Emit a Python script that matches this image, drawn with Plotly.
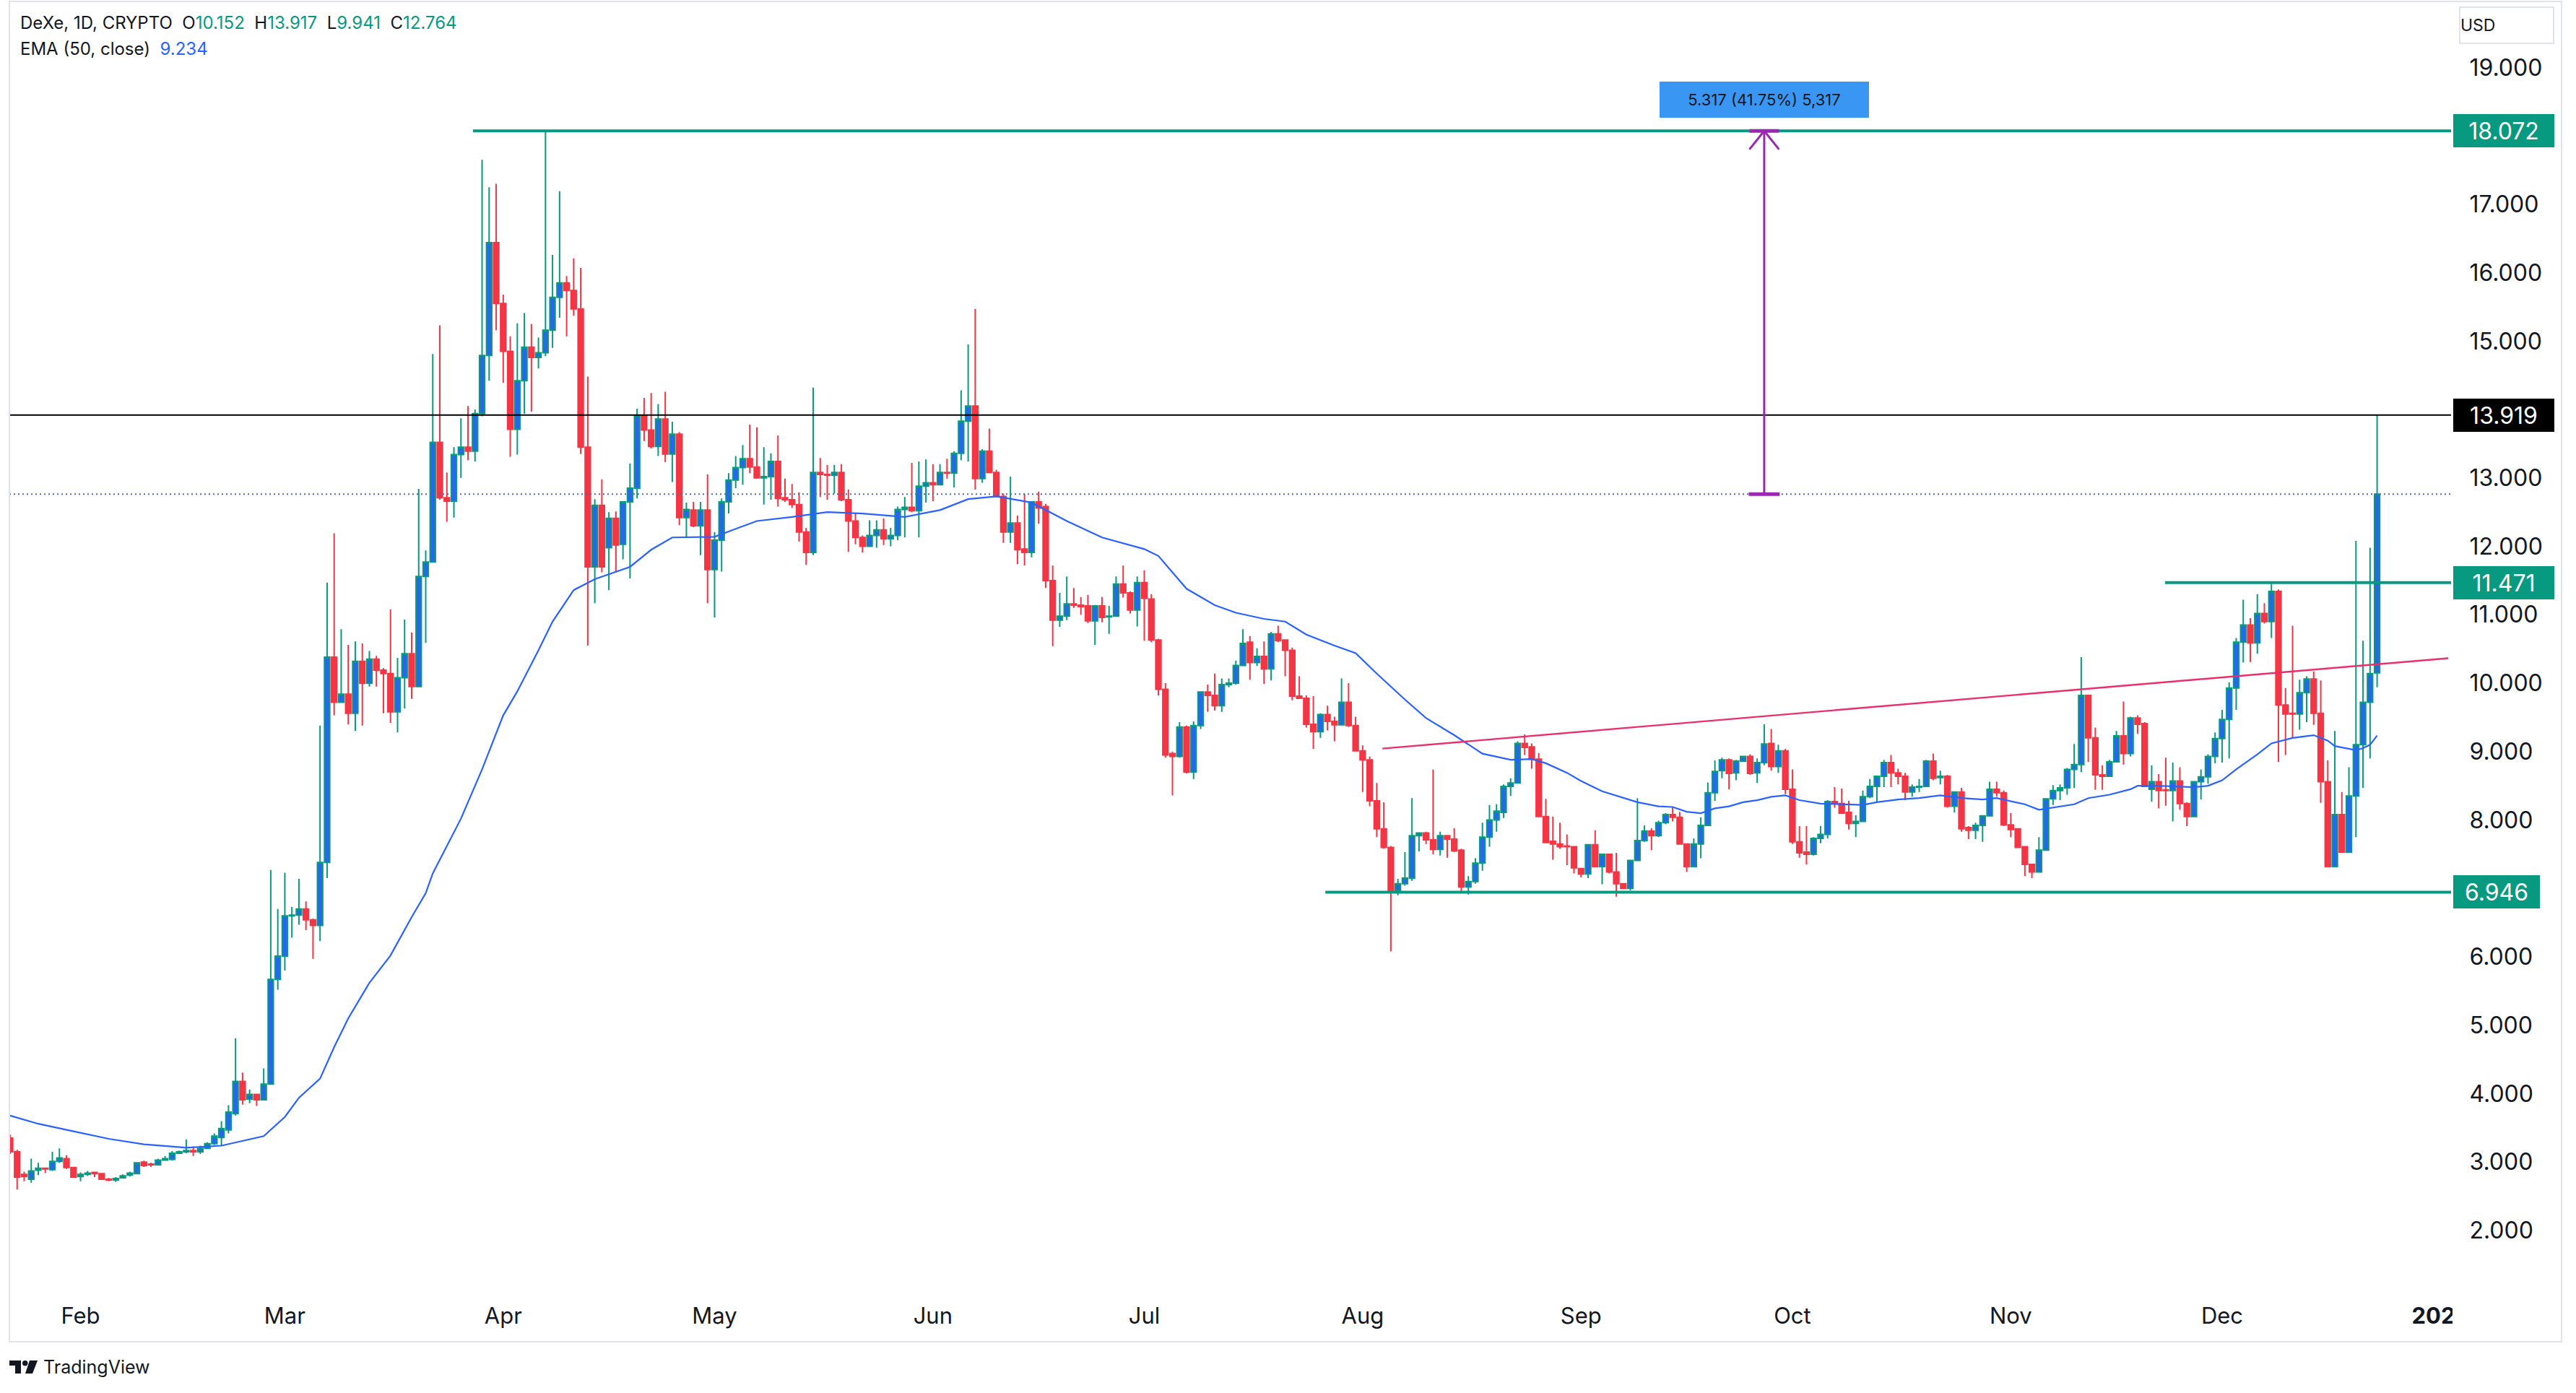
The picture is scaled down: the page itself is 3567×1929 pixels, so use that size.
import pandas as pd
import plotly.graph_objects as go

# ---------------- data ----------------
symbol_title = "DeXe, 1D, CRYPTO"
ema_title = "EMA (50, close)"
first_day = "2024-01-22"

opens = [
 3.35,3.15,2.82,2.75,2.88,2.91,2.89,3.01,3.05,2.92,
 2.79,2.82,2.85,2.83,2.75,2.74,2.77,2.81,2.83,3.00,
 2.97,2.96,3.03,3.04,3.13,3.15,3.17,3.15,3.20,3.27,
 3.36,3.47,3.71,4.18,3.92,3.99,3.91,4.14,5.67,6.01,
 6.60,6.61,6.70,6.54,6.46,7.38,10.38,9.72,9.84,9.56,
 10.32,10.00,10.35,10.19,10.14,9.58,10.08,10.43,9.95,11.56,
 11.77,13.52,12.71,12.66,13.34,13.45,13.39,13.94,14.79,16.44,
 15.55,14.85,13.71,14.42,14.91,14.76,14.83,15.16,15.64,15.85,
 15.74,15.47,13.45,11.70,12.60,11.98,12.41,12.03,12.65,12.85,
 13.91,13.70,13.46,13.86,13.35,13.64,12.42,12.53,12.30,12.53,
 11.66,12.09,12.65,12.97,13.15,13.28,13.16,13.00,13.02,13.24,
 12.71,12.68,12.61,12.21,11.91,13.08,13.05,13.04,13.08,12.68,
 12.37,12.13,12.00,12.16,12.24,12.11,12.16,12.54,12.57,12.52,
 12.88,12.93,12.90,13.08,13.07,13.36,13.83,14.05,12.99,13.39,
 13.08,12.73,12.21,12.34,11.96,11.91,12.65,12.58,11.50,10.92,
 10.98,11.16,11.14,11.13,10.91,11.13,10.97,10.98,11.45,11.32,
 11.07,11.47,11.23,10.63,9.91,8.97,8.93,9.36,8.70,9.38,
 9.87,9.82,9.67,9.98,10.00,10.26,10.60,10.30,10.39,10.21,
 10.72,10.63,10.48,9.81,9.78,9.40,9.29,9.54,9.44,9.39,
 9.72,9.38,9.01,8.88,8.28,7.87,7.60,6.97,7.07,7.15,
 7.77,7.81,7.71,7.57,7.77,7.72,7.56,7.02,7.10,7.37,
 7.75,8.00,8.11,8.49,8.54,9.12,9.07,8.89,8.05,7.69,
 7.65,7.62,7.61,7.29,7.21,7.64,7.32,7.50,7.24,7.07,
 7.00,7.41,7.70,7.84,7.77,7.96,8.08,8.04,7.65,7.32,
 7.65,7.92,8.40,8.72,8.88,8.69,8.86,8.93,8.69,8.84,
 9.12,8.78,9.01,8.45,7.68,7.53,7.50,7.73,7.79,8.27,
 8.24,8.11,7.95,7.98,8.34,8.49,8.64,8.84,8.69,8.64,
 8.41,8.48,8.49,8.86,8.62,8.64,8.20,8.41,7.89,7.85,
 7.92,8.06,8.45,8.40,7.93,7.87,7.61,7.35,7.24,7.56,
 8.31,8.43,8.47,8.74,8.81,9.82,9.20,8.66,8.64,8.85,
 9.23,8.97,9.49,9.41,8.45,8.56,8.44,8.43,8.57,8.24,
 8.05,8.56,8.63,8.93,9.19,9.47,9.93,10.60,10.85,10.59,
 11.02,10.90,11.34,9.68,9.56,9.55,9.86,10.06,9.56,8.56,
 7.32,8.08,7.53,8.35,9.10,9.72,10.152]

highs = [
 3.40,3.18,2.86,3.05,2.99,2.92,3.15,3.20,3.10,2.93,
 2.85,2.87,2.86,2.84,2.77,2.78,2.82,2.86,3.00,3.02,
 2.99,3.05,3.09,3.16,3.17,3.33,3.23,3.24,3.29,3.42,
 3.60,3.83,4.81,4.31,4.06,4.00,4.37,7.27,6.70,7.23,
 6.73,7.14,6.81,6.56,9.38,11.47,12.19,10.79,10.56,10.61,
 10.58,10.47,10.40,10.22,11.08,10.37,10.93,10.74,12.84,11.94,
 14.81,15.23,13.08,13.45,13.87,14.05,14.00,17.65,17.25,17.30,
 15.68,15.07,15.26,15.41,15.25,15.05,18.07,16.26,17.19,15.95,
 16.21,16.07,14.48,12.69,12.98,12.50,12.51,12.65,13.21,14.01,
 14.17,14.24,14.08,14.26,13.82,13.67,12.64,12.65,12.65,13.05,
 12.21,12.70,13.07,13.32,13.48,13.78,13.74,13.45,13.36,13.62,
 12.99,12.91,12.79,12.27,14.32,13.29,13.19,13.19,13.20,12.83,
 12.48,12.16,12.38,12.38,12.41,12.27,12.58,12.72,13.22,13.24,
 13.27,13.20,13.20,13.28,13.39,14.28,14.95,15.47,13.42,13.72,
 13.12,12.77,13.02,12.45,12.77,12.66,12.80,12.62,11.72,11.32,
 11.56,11.39,11.26,11.29,11.14,11.26,11.13,11.56,11.72,11.34,
 11.56,11.65,11.30,10.65,10.00,9.00,9.43,9.38,9.44,9.88,
 9.98,10.14,10.07,10.07,10.33,10.79,10.69,10.51,10.61,10.75,
 10.84,10.64,10.52,10.10,9.82,9.81,9.56,9.67,9.51,10.07,
 10.00,9.51,9.09,8.93,8.54,8.26,7.62,7.14,7.53,8.32,
 7.82,7.83,8.74,7.83,7.78,7.88,7.58,7.18,7.44,7.96,
 8.22,8.23,8.52,8.61,9.15,9.25,9.12,8.98,8.31,8.05,
 7.96,7.79,7.62,7.30,7.64,7.85,7.51,7.51,7.52,7.08,
 7.42,8.32,7.92,7.88,7.99,8.10,8.19,8.12,7.65,7.73,
 8.04,8.55,8.87,8.91,8.90,8.88,8.94,8.96,8.90,9.40,
 9.33,9.10,9.04,8.74,7.91,7.91,7.75,7.91,8.29,8.48,
 8.46,8.28,8.07,8.43,8.60,8.64,8.88,8.95,8.75,8.69,
 8.52,8.60,8.88,8.97,8.72,8.66,8.42,8.47,7.91,7.96,
 8.07,8.56,8.56,8.43,8.10,7.88,7.61,7.36,7.75,8.32,
 8.51,8.52,8.76,9.11,10.38,9.82,9.35,8.80,8.88,9.30,
 9.73,9.51,9.53,9.43,8.80,8.67,8.91,8.84,8.77,8.26,
 8.57,8.74,8.96,9.28,9.61,10.01,10.66,11.22,10.95,11.30,
 11.17,11.47,11.37,9.93,10.84,10.05,10.10,10.17,10.04,8.87,
 9.30,8.41,8.77,12.08,10.62,11.98,13.917]

lows = [
 3.12,2.60,2.72,2.70,2.81,2.84,2.87,2.99,2.90,2.77,
 2.72,2.80,2.78,2.74,2.72,2.71,2.76,2.79,2.82,2.93,
 2.93,2.95,3.02,3.02,3.12,3.13,3.09,3.12,3.19,3.25,
 3.24,3.42,3.68,3.84,3.86,3.82,3.90,4.13,5.52,5.80,
 6.28,6.47,6.39,5.97,6.23,7.15,9.53,9.72,9.40,9.30,
 9.38,9.95,9.95,9.56,9.42,9.28,9.63,9.77,9.95,10.59,
 11.77,12.68,12.36,12.42,13.00,13.26,13.24,13.90,14.42,15.16,
 14.39,13.31,13.34,13.94,13.97,14.60,14.78,14.90,15.34,15.07,
 15.37,13.35,10.55,11.17,11.62,11.36,11.62,11.81,11.53,12.70,
 13.54,13.43,13.32,13.23,12.94,12.31,12.14,12.28,11.87,11.17,
 10.96,11.63,12.48,12.85,12.90,13.07,12.99,12.61,12.68,12.58,
 12.65,12.56,12.07,11.73,11.87,12.72,12.68,12.77,12.66,11.92,
 12.03,11.91,11.99,11.98,12.02,12.00,12.09,12.13,12.50,12.13,
 12.64,12.66,12.90,12.99,12.86,13.26,13.24,12.83,12.93,13.07,
 12.72,12.05,12.05,11.74,11.72,11.84,12.33,11.39,10.54,10.82,
 10.92,11.10,11.00,10.88,10.56,10.89,10.72,10.98,11.25,11.02,
 10.83,10.62,10.60,9.82,8.91,8.36,8.91,8.68,8.60,9.33,
 9.58,9.60,9.58,9.94,9.98,10.25,10.05,10.25,9.99,10.04,
 10.60,10.10,9.75,9.78,9.35,9.04,9.20,9.31,9.15,9.39,
 9.36,9.01,8.41,8.20,7.75,7.58,6.08,6.90,7.04,7.11,
 7.54,7.65,7.50,7.48,7.45,7.53,6.96,6.91,7.07,7.26,
 7.61,7.83,8.03,8.35,8.53,8.95,8.75,8.05,7.66,7.42,
 7.58,7.34,7.22,7.16,7.15,7.31,7.06,7.22,6.88,6.99,
 6.97,7.40,7.68,7.56,7.75,7.94,7.98,7.64,7.24,7.31,
 7.44,7.91,8.28,8.61,8.45,8.58,8.85,8.66,8.54,8.80,
 8.72,8.69,8.38,7.65,7.45,7.35,7.48,7.66,7.73,8.18,
 8.10,7.86,7.75,7.97,8.32,8.26,8.48,8.48,8.52,8.29,
 8.34,8.41,8.48,8.58,8.52,8.18,8.11,7.83,7.72,7.72,
 7.68,8.05,8.34,7.91,7.75,7.59,7.18,7.15,7.23,7.55,
 8.22,8.29,8.37,8.47,8.70,8.85,8.44,8.44,8.63,8.84,
 8.81,8.93,9.26,8.48,8.27,8.17,8.21,7.98,8.15,7.91,
 8.04,8.30,8.53,8.83,8.84,8.90,9.61,10.30,10.31,10.43,
 10.87,10.66,8.85,8.95,9.21,9.32,9.43,9.39,8.25,7.32,
 7.32,7.53,7.52,7.75,8.47,8.90,9.941]

closes = [
 3.15,2.78,2.79,2.87,2.91,2.90,3.01,3.06,2.92,2.78,
 2.82,2.84,2.83,2.75,2.74,2.76,2.80,2.84,2.99,2.95,
 2.96,3.03,3.05,3.13,3.15,3.17,3.15,3.20,3.27,3.38,
 3.49,3.73,4.18,3.91,3.99,3.91,4.14,5.67,6.01,6.60,
 6.61,6.70,6.54,6.46,7.38,10.38,9.72,9.84,9.56,10.32,
 10.00,10.35,10.19,10.14,9.58,10.08,10.43,9.95,11.56,11.77,
 13.52,12.71,12.66,13.34,13.45,13.39,13.94,14.79,16.44,15.55,
 14.85,13.71,14.42,14.91,14.76,14.83,15.16,15.64,15.85,15.74,
 15.47,13.45,11.70,12.60,11.70,12.41,12.02,12.65,12.85,13.91,
 13.70,13.46,13.86,13.35,13.64,12.42,12.54,12.30,12.53,11.66,
 12.09,12.65,12.97,13.15,13.28,13.16,13.00,13.02,13.24,12.70,
 12.68,12.61,12.21,11.91,13.08,13.05,13.04,13.08,12.68,12.37,
 12.13,12.00,12.16,12.24,12.11,12.16,12.54,12.57,12.52,12.88,
 12.93,12.90,13.08,13.07,13.36,13.83,14.05,12.99,13.39,13.08,
 12.73,12.21,12.34,11.95,11.91,12.65,12.56,11.50,10.92,10.98,
 11.16,11.14,11.12,10.91,11.13,10.96,10.98,11.45,11.32,11.07,
 11.47,11.24,10.63,9.91,8.95,8.93,9.36,8.70,9.38,9.87,
 9.82,9.67,9.98,10.00,10.26,10.58,10.30,10.39,10.21,10.72,
 10.62,10.48,9.81,9.78,9.40,9.29,9.54,9.44,9.39,9.72,
 9.38,9.01,8.88,8.28,7.87,7.60,6.94,7.07,7.15,7.77,
 7.81,7.71,7.57,7.77,7.72,7.55,7.02,7.10,7.37,7.75,
 8.00,8.13,8.49,8.54,9.12,9.06,8.89,8.05,7.67,7.65,
 7.61,7.61,7.30,7.21,7.64,7.32,7.50,7.24,7.07,7.00,
 7.41,7.70,7.84,7.77,7.96,8.08,8.04,7.65,7.32,7.65,
 7.92,8.40,8.71,8.88,8.68,8.86,8.93,8.68,8.84,9.11,
 8.78,9.01,8.45,7.68,7.52,7.50,7.73,7.79,8.27,8.24,
 8.10,7.95,7.98,8.34,8.49,8.64,8.84,8.69,8.64,8.41,
 8.48,8.49,8.86,8.61,8.64,8.20,8.41,7.87,7.85,7.92,
 8.06,8.45,8.40,7.93,7.86,7.60,7.35,7.24,7.56,8.31,
 8.43,8.47,8.74,8.81,9.82,9.20,8.66,8.64,8.85,9.23,
 8.97,9.49,9.40,8.49,8.56,8.43,8.43,8.57,8.24,8.05,
 8.56,8.63,8.93,9.19,9.47,9.93,10.60,10.85,10.59,11.02,
 10.90,11.34,9.68,9.55,9.55,9.86,10.06,9.56,8.56,7.32,
 8.08,7.53,8.35,9.10,9.72,10.14,12.764]

# EMA(50): candle number (1 = first candle) and value
ema_idx = [1,5,10,15,20,26,31,37,40,42,45,47,49,52,55,58,60,61,65,68,
           71,73,76,78,81,84,89,92,95,101,107,112,117,122,128,133,137,141,146,151,
           156,162,164,166,168,172,175,179,182,185,189,192,195,199,202,206,210,214,217,219,
           222,224,227,232,235,237,239,241,243,245,247,249,251,253,255,258,261,264,266,269,
           272,275,278,281,283,287,289,291,294,296,299,302,303,306,308,311,313,315,317,320,
           322,325,328,330,331,334,335,336,337]
ema_vals = [3.68,3.56,3.45,3.34,3.26,3.21,3.24,3.38,3.66,3.94,4.22,4.68,5.10,5.62,6.02,6.58,6.93,7.22,8.02,8.74,
            9.53,9.88,10.48,10.90,11.36,11.52,11.70,11.95,12.13,12.14,12.37,12.43,12.50,12.48,12.43,12.53,12.69,12.73,12.64,12.37,
            12.13,11.96,11.86,11.62,11.38,11.14,11.03,10.94,10.90,10.71,10.55,10.44,10.14,9.76,9.49,9.24,8.97,8.88,8.89,8.83,
            8.69,8.57,8.42,8.26,8.20,8.19,8.12,8.10,8.17,8.20,8.26,8.29,8.34,8.36,8.29,8.24,8.23,8.22,8.26,8.30,
            8.32,8.36,8.32,8.30,8.32,8.23,8.15,8.18,8.23,8.32,8.37,8.45,8.50,8.50,8.49,8.48,8.50,8.58,8.74,8.96,
            9.12,9.20,9.24,9.16,9.08,9.02,9.05,9.10,9.234]

tick_dates = ["2024-02-01", "2024-03-01", "2024-04-01", "2024-05-01", "2024-06-01", "2024-07-01",
              "2024-08-01", "2024-09-01", "2024-10-01", "2024-11-01", "2024-12-01", "2025-01-01"]
tick_labels = ["Feb", "Mar", "Apr", "May", "Jun", "Jul", "Aug", "Sep", "Oct", "Nov", "Dec", "<b>2025</b>"]
# price-scale labels that are visible (7, 14 and 18 sit under the level badges)
price_ticks = [2, 3, 4, 5, 6, 8, 9, 10, 11, 12, 13, 15, 16, 17, 19]

# drawings on the chart (levels and the candle number where each begins)
level_top, level_top_from = 18.072, 66.7
level_black = 13.919
level_mid, level_mid_from = 11.471, 306.9
level_support, level_support_from = 6.946, 187.7
trend_idx = [195.8, 347.1]
trend_vals = [9.044, 10.365]
measure_at = 250
measure_from, measure_to = 12.764, 18.072
measure_label = "5.317 (41.75%) 5,317"

assert len(opens) == len(highs) == len(lows) == len(closes) == 337
assert len(ema_idx) == len(ema_vals)

# ---------------- layout geometry ----------------
W, H = 3567, 1929
PL, PR, PT, PB = 13, 3394, 2, 1794
Y_RANGE = [1.05, 19.964]
X_FROM, X_TO = 0.9, 347.5

GREEN = "#089981"
RED = "#F23645"
BLUE_BODY = "#2667EC"
EMA_BLUE = "#2962FF"
TXT = "#131722"
FONT = "Inter, Roboto, Arial, sans-serif"

start = pd.Timestamp(first_day)


def day(i):
    return start + pd.Timedelta(days=i - 1)


def px(x):
    return (x - PL) / (PR - PL)


def py(y):
    return (PB - y) / (PB - PT)


dates = [day(i + 1) for i in range(len(opens))]
x_left, x_right = day(X_FROM), day(X_TO)

fig = go.Figure()


def hline(x0, x1, y, color, width, dash="solid"):
    fig.add_trace(go.Scatter(x=[x0, x1], y=[y, y], mode="lines",
                             line=dict(color=color, width=width, dash=dash),
                             hoverinfo="skip", showlegend=False))


# last price dotted line
hline(x_left, x_right, closes[-1], "#5468A8", 2, dash="2px,4px")

fig.add_trace(go.Candlestick(
    x=dates, open=opens, high=highs, low=lows, close=closes,
    increasing=dict(line=dict(color=GREEN, width=2), fillcolor=BLUE_BODY),
    decreasing=dict(line=dict(color=RED, width=2), fillcolor=RED),
    whiskerwidth=0, hoverinfo="skip", showlegend=False))

fig.add_trace(go.Scatter(x=[day(i) for i in ema_idx], y=ema_vals, mode="lines",
                         line=dict(color=EMA_BLUE, width=2.2), hoverinfo="skip", showlegend=False))

# horizontal levels
hline(x_left, x_right, level_black, "#000000", 2.2)
hline(day(level_top_from), x_right, level_top, GREEN, 4)
hline(day(level_mid_from), x_right, level_mid, GREEN, 4)
hline(day(level_support_from), x_right, level_support, GREEN, 4)

# trend line
fig.add_trace(go.Scatter(x=[day(i) for i in trend_idx], y=trend_vals, mode="lines",
                         line=dict(color="#EC2F6B", width=2.4), hoverinfo="skip", showlegend=False))

# measure tool
PURPLE = "#9C27B0"
fig.add_trace(go.Scatter(x=[day(measure_at), day(measure_at)], y=[measure_from, measure_to], mode="lines",
                         line=dict(color=PURPLE, width=3), hoverinfo="skip", showlegend=False))
hline(day(measure_at - 2.2), day(measure_at + 2.2), measure_from, PURPLE, 5)
hline(day(measure_at - 2.1), day(measure_at + 2.1), measure_to, PURPLE, 5)
fig.add_trace(go.Scatter(x=[day(measure_at - 2.1), day(measure_at), day(measure_at + 2.1)],
                         y=[measure_to - 0.27, measure_to, measure_to - 0.27], mode="lines",
                         line=dict(color=PURPLE, width=3), hoverinfo="skip", showlegend=False))

annotations = []


def span(txt, color):
    return f"<span style='color:{color}'>{txt}</span>"


sp = "\u00a0\u00a0"
head1 = (symbol_title + sp + "O" + span(f"{opens[-1]:.3f}", GREEN) + sp + "H" + span(f"{highs[-1]:.3f}", GREEN)
         + sp + "L" + span(f"{lows[-1]:.3f}", GREEN) + sp + "C" + span(f"{closes[-1]:.3f}", GREEN))
head2 = ema_title + sp + span(f"{ema_vals[-1]:.3f}", EMA_BLUE)
for txt, yy in ((head1, 32), (head2, 68)):
    annotations.append(dict(text=txt, xref="paper", yref="paper", x=px(26), y=py(yy),
                            xanchor="left", yanchor="middle", showarrow=False,
                            font=dict(family=FONT, size=24, color=TXT)))

# price-axis labels for the levels
for val, bg, w in ((level_top, GREEN, 140), (level_black, "#000000", 140),
                   (level_mid, GREEN, 140), (level_support, GREEN, 120)):
    annotations.append(dict(text=f"{val:.3f}", xref="paper", yref="y", x=1, y=val, xshift=3,
                            xanchor="left", yanchor="middle", showarrow=False,
                            width=w, height=46, bgcolor=bg, borderpad=0, borderwidth=0, align="center",
                            font=dict(family=FONT, size=32, color="#FFFFFF")))

# measure label
annotations.append(dict(text=measure_label, xref="x", yref="y", x=day(measure_at), y=measure_to, yshift=43,
                        xanchor="center", yanchor="middle", showarrow=False, width=290, height=50,
                        bgcolor="#3A96F3", borderpad=0, borderwidth=0,
                        font=dict(family=FONT, size=22, color=TXT)))

# USD box
annotations.append(dict(text="USD", xref="paper", yref="paper", x=px(3405), y=py(35),
                        xanchor="left", yanchor="middle", showarrow=False, width=128, height=48,
                        bordercolor="#E0E3EB", borderwidth=2, borderpad=0, align="left",
                        font=dict(family=FONT, size=23, color=TXT)))

# TradingView wordmark
annotations.append(dict(text="TradingView", xref="paper", yref="paper", x=px(58), y=py(1893),
                        xanchor="left", yanchor="middle", showarrow=False,
                        font=dict(family=FONT, size=25, color=TXT)))

shapes = [
    # hide the part of the last time label that runs under the price scale
    dict(type="rect", xref="paper", yref="paper", x0=px(3396), x1=px(3560), y0=py(1856), y1=py(1797),
         fillcolor="#FFFFFF", line=dict(width=0), layer="above"),
    # outer frame
    dict(type="rect", xref="paper", yref="paper", x0=px(13), x1=px(3547), y0=py(1858), y1=py(2),
         line=dict(color="#E0E3EB", width=2), layer="above"),
    # logo
    dict(type="rect", xref="paper", yref="paper", x0=px(13), x1=px(29), y0=py(1891), y1=py(1884),
         fillcolor=TXT, line=dict(width=0), layer="above"),
    dict(type="rect", xref="paper", yref="paper", x0=px(21), x1=px(29), y0=py(1902), y1=py(1884),
         fillcolor=TXT, line=dict(width=0), layer="above"),
    dict(type="circle", xref="paper", yref="paper", x0=px(31), x1=px(38.5), y0=py(1891.5), y1=py(1884),
         fillcolor=TXT, line=dict(width=0), layer="above"),
    dict(type="path", xref="paper", yref="paper",
         path=f"M {px(41)} {py(1884)} L {px(52)} {py(1884)} L {px(45)} {py(1902)} L {px(35)} {py(1902)} Z",
         fillcolor=TXT, line=dict(width=0), layer="above"),
]

fig.update_layout(
    width=W, height=H, autosize=False,
    margin=dict(l=PL, r=W - PR, t=PT, b=H - PB, pad=0),
    paper_bgcolor="#FFFFFF", plot_bgcolor="#FFFFFF",
    boxgap=0.25, boxgroupgap=0,
    showlegend=False, hovermode=False,
    annotations=annotations, shapes=shapes,
    xaxis=dict(type="date", range=[x_left, x_right], tickvals=tick_dates, ticktext=tick_labels,
               showgrid=False, zeroline=False, showline=False, ticks="outside", ticklen=1,
               tickcolor="rgba(0,0,0,0)", tickfont=dict(family=FONT, size=31, color=TXT),
               rangeslider=dict(visible=False), fixedrange=True),
    yaxis=dict(side="right", range=Y_RANGE, tickvals=price_ticks, tickformat=".3f",
               showgrid=False, zeroline=False, showline=False, ticks="outside", ticklen=18,
               tickcolor="rgba(0,0,0,0)", tickfont=dict(family=FONT, size=32, color=TXT), fixedrange=True),
)

fig.write_html("out.html", config={"displayModeBar": False},
               post_script="document.body.style.margin='0';document.body.style.overflow='hidden';")
